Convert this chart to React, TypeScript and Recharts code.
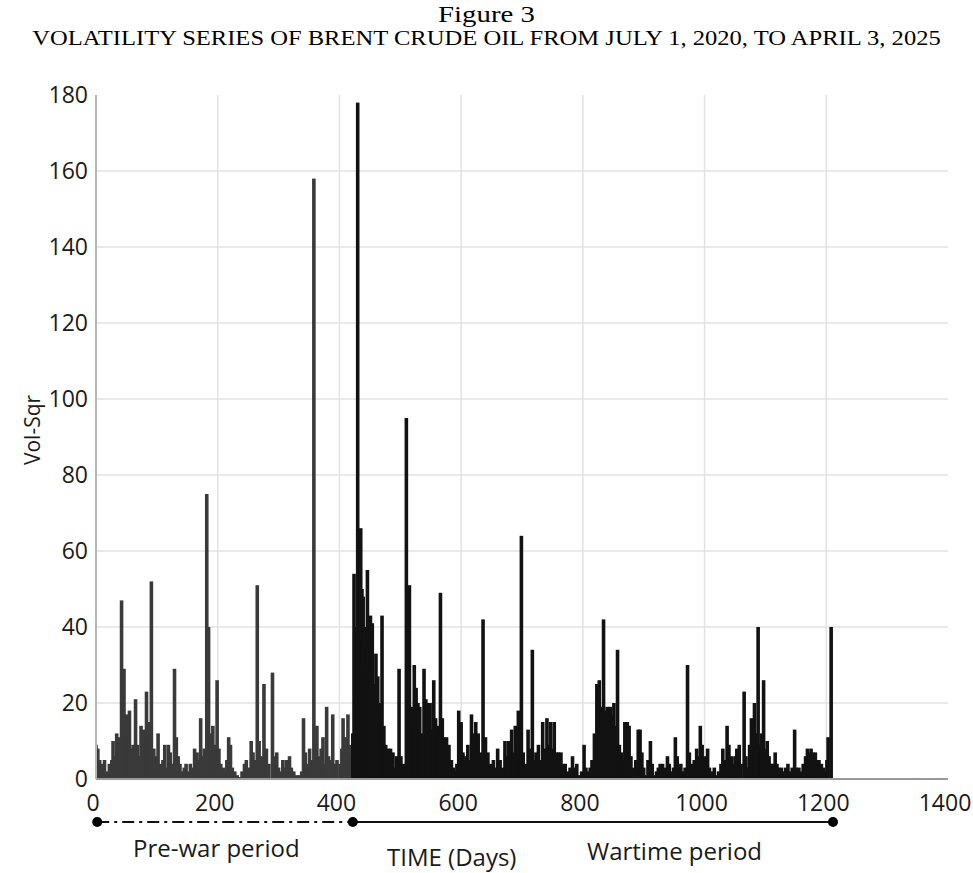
import { BarChart, Bar, XAxis, YAxis, CartesianGrid, ReferenceLine, ReferenceDot } from "recharts"

// daily volatility readings (day index, Vol-Sqr)
const days = [
  0, 3, 6, 10, 14, 18, 22, 26, 28, 31, 34, 38, 42, 46, 50, 53, 55, 58, 61, 65, 68, 71, 74, 78, 81, 83, 86, 89, 91, 95,
  99, 102, 106, 110, 113, 116, 119, 122, 125, 129, 132, 135, 138, 142, 145, 148, 152, 155, 159, 162, 166, 169, 172, 175, 178, 182, 185, 188, 192, 195,
  199, 202, 205, 209, 212, 215, 218, 221, 224, 228, 232, 236, 240, 244, 247, 251, 255, 258, 262, 265, 268, 272, 276, 280, 284, 290, 294, 297, 300, 303,
  307, 310, 313, 316, 318, 321, 325, 330, 334, 338, 341, 344, 347, 351, 355, 358, 361, 363, 366, 370, 373, 376, 379, 382, 385, 389, 392, 396, 401, 404,
  406, 410, 414, 417, 420, 422,
  424, 427, 430, 433, 435, 437, 439, 442, 444, 446, 449, 451, 454, 457, 460, 463, 466, 468, 470, 473, 476, 480, 484, 488, 491, 494, 498, 501, 505, 510,
  512, 515, 518, 521, 523, 526, 529, 532, 535, 539, 542, 545, 549, 552, 555, 558, 561, 563, 566, 569, 572, 576, 580, 584, 587, 590, 593, 596, 600, 603,
  605, 608, 611, 614, 617, 620, 624, 628, 632, 636, 640, 644, 648, 653, 656, 660, 664, 668, 672, 675, 678, 683, 686, 689, 694, 697, 699, 702, 706, 710,
  713, 717, 720, 723, 727, 731, 734, 737, 741, 744, 747, 750, 753, 757, 760, 764, 767, 771, 775, 779, 783, 786, 790, 794, 798, 802, 805, 809, 812, 815,
  819, 823, 827, 831, 834, 837, 840, 845, 848, 851, 854, 857, 860, 863, 866, 869, 873, 876, 879, 883, 887, 891, 894, 897, 900, 904, 907, 911, 914, 918,
  921, 924, 927, 931, 935, 939, 942, 946, 949, 952, 955, 958, 961, 965, 968, 972, 975, 979, 983, 987, 990, 993, 996, 1000, 1005, 1008, 1011, 1016, 1019, 1023,
  1027, 1030, 1034, 1037, 1040, 1044, 1047, 1050, 1053, 1057, 1060, 1065, 1068, 1071, 1074, 1077, 1080, 1082, 1085, 1088, 1091, 1094, 1097, 1100, 1103, 1106, 1110, 1113, 1116, 1119,
  1122, 1126, 1130, 1133, 1137, 1140, 1144, 1148, 1151, 1155, 1158, 1162, 1166, 1169, 1172, 1175, 1178, 1182, 1185, 1188, 1192, 1195, 1198, 1201, 1203, 1208,
]

const volSqr = [
  9, 8, 5, 4, 5, 2, 4, 5, 10, 6, 12, 11, 47, 29, 17, 12, 18, 8, 9, 21, 9, 6, 14, 13, 7, 23, 15, 10, 52, 8,
  6, 12, 4, 5, 9, 3, 9, 7, 4, 29, 11, 6, 4, 2, 3, 4, 2, 4, 3, 8, 7, 5, 16, 6, 8, 75, 40, 12, 14, 9,
  26, 8, 4, 3, 2, 5, 11, 9, 3, 2, 1, 0.5, 2, 4, 5, 3, 10, 7, 5, 51, 10, 6, 25, 8, 4, 28, 6, 7, 3, 2,
  5, 3, 5, 2, 6, 3, 2, 1, 1, 2, 16, 7, 4, 8, 5, 158, 9, 14, 6, 8, 11, 4, 19, 6, 5, 17, 4, 5, 4, 8,
  16, 11, 17, 9, 6, 12,
  54, 40, 178, 48, 66, 50, 48, 35, 40, 55, 30, 43, 41, 25, 33, 27, 20, 18, 43, 14, 9, 8, 8, 7, 3, 6, 29, 6, 4, 95,
  30, 51, 19, 15, 30, 24, 20, 19, 12, 29, 21, 20, 20, 13, 26, 16, 11, 14, 49, 16, 11, 11, 9, 5, 3, 2, 4, 18, 15, 7,
  5, 6, 9, 5, 17, 12, 15, 12, 7, 42, 11, 7, 4, 5, 3, 8, 5, 3, 10, 6, 10, 13, 7, 14, 18, 9, 64, 7, 4, 13,
  8, 34, 5, 7, 9, 5, 15, 8, 16, 9, 15, 8, 15, 7, 7, 7, 4, 4, 2, 3, 6, 3, 4, 1, 2, 9, 3, 2, 3, 5,
  12, 25, 26, 19, 42, 18, 19, 19, 17, 20, 14, 34, 9, 7, 5, 15, 15, 14, 6, 3, 5, 13, 13, 7, 3, 1, 5, 10, 4, 1,
  2, 3, 4, 4, 3, 6, 4, 2, 3, 11, 6, 3, 4, 2, 3, 30, 7, 4, 5, 8, 6, 14, 9, 6, 8, 3, 2, 3, 1, 2,
  4, 8, 5, 14, 9, 6, 4, 6, 8, 9, 4, 23, 6, 3, 9, 16, 14, 20, 12, 40, 9, 12, 26, 8, 10, 6, 4, 4, 7, 4,
  3, 3, 2, 3, 4, 2, 3, 13, 3, 3, 2, 4, 6, 8, 7, 8, 7, 7, 5, 5, 4, 3, 2, 5, 11, 40,
]

const xTicks = [0, 200, 400, 600, 800, 1000, 1200, 1400]
const yTicks = [0, 20, 40, 60, 80, 100, 120, 140, 160, 180]
const gridX = [200, 400, 600, 800, 1000, 1200]
const gridY = [20, 40, 60, 80, 100, 120, 140, 160]

// period markers under the axis
const preWarStart = 2
const warStart = 422
const warEnd = 1211
const periodLevel = -11.3

const data = days.map((day, i) => ({ day, vol: volSqr[i] }))

const sans = "'Open Sans', sans-serif"
const serif = "'Liberation Serif', 'Times New Roman', serif"

// recharts squeezes bars on a dense number axis, so draw a fixed-width needle at the bar centre
const Needle = (props: any) => {
  const { x, y, width, height, payload } = props
  if (height == null || height <= 0) return null
  const w = 3.6
  const cx = x + width / 2
  return <rect x={cx - w / 2} y={y} width={w} height={height} fill={payload.day < warStart ? "#3a3a3a" : "#121212"} />
}

export default function App() {
  return (
    <div style={{ position: "absolute", left: 0, top: 0, width: 973, height: 873, background: "#fff" }}>
      <div style={{ position: "absolute", left: 0, width: 973, top: 1, textAlign: "center", fontFamily: serif, fontSize: 24, color: "#000", transform: "scaleX(1.2)" }}>
        Figure 3
      </div>
      <div style={{ position: "absolute", left: 0, width: 973, top: 26, textAlign: "center", fontFamily: serif, fontSize: 21, color: "#000", whiteSpace: "nowrap", transform: "scaleX(1.17)" }}>
        VOLATILITY SERIES OF BRENT CRUDE OIL FROM JULY 1, 2020, TO APRIL 3, 2025
      </div>

      <BarChart
        width={973}
        height={873}
        data={data}
        margin={{ top: 95, right: 25, bottom: 54, left: 36 }}
        style={{ position: "absolute", left: 0, top: 0, fontFamily: sans }}
      >
        <CartesianGrid stroke="#e2e2e2" strokeWidth={1.5} horizontalValues={gridY} verticalValues={gridX} />
        <XAxis
          dataKey="day"
          type="number"
          domain={[0, 1400]}
          ticks={xTicks}
          interval={0}
          allowDataOverflow
          height={40}
          tickLine={false}
          tickMargin={10}
          axisLine={{ stroke: "#999", strokeWidth: 2 }}
          tick={{ fill: "#1a1a1a", fontSize: 23, dx: -3 }}
        />
        <YAxis
          domain={[0, 180]}
          ticks={yTicks}
          interval={0}
          width={60}
          tickLine={false}
          axisLine={{ stroke: "#b5b5b5", strokeWidth: 2 }}
          tick={{ fill: "#1a1a1a", fontSize: 23 }}
        />
        <Bar dataKey="vol" shape={Needle} isAnimationActive={false} />
        <ReferenceLine
          segment={[{ x: preWarStart, y: periodLevel }, { x: warStart, y: periodLevel }]}
          ifOverflow="visible"
          stroke="#111"
          strokeWidth={2}
          strokeDasharray="12 5 3 5"
        />
        <ReferenceLine
          segment={[{ x: warStart, y: periodLevel }, { x: warEnd, y: periodLevel }]}
          ifOverflow="visible"
          stroke="#111"
          strokeWidth={2}
        />
        <ReferenceDot x={preWarStart} y={periodLevel} r={5} fill="#000" stroke="none" ifOverflow="visible" />
        <ReferenceDot x={warStart} y={periodLevel} r={5} fill="#000" stroke="none" ifOverflow="visible" />
        <ReferenceDot x={warEnd} y={periodLevel} r={5} fill="#000" stroke="none" ifOverflow="visible" />
      </BarChart>

      <div style={{ position: "absolute", left: 12, top: 415, width: 40, height: 30, transform: "rotate(-90deg)", transformOrigin: "center", fontFamily: sans, fontSize: 21, color: "#1a1a1a", whiteSpace: "nowrap", display: "flex", justifyContent: "center", alignItems: "center" }}>
        Vol-Sqr
      </div>
      <div style={{ position: "absolute", left: 133, top: 831, fontFamily: sans, fontSize: 24, color: "#1a1a1a", whiteSpace: "nowrap" }}>
        Pre-war period
      </div>
      <div style={{ position: "absolute", left: 387, top: 840, fontFamily: sans, fontSize: 24, color: "#1a1a1a", whiteSpace: "nowrap" }}>
        TIME (Days)
      </div>
      <div style={{ position: "absolute", left: 587, top: 834, fontFamily: sans, fontSize: 24, color: "#1a1a1a", whiteSpace: "nowrap" }}>
        Wartime period
      </div>
    </div>
  )
}
